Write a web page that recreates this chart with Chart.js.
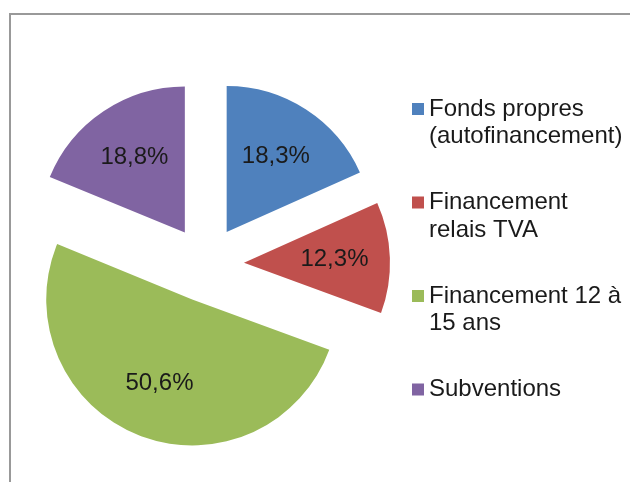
<!DOCTYPE html>
<html>
<head>
<meta charset="utf-8">
<script src="https://cdn.jsdelivr.net/npm/chart.js@4/dist/chart.umd.min.js"></script>
<style>
  html, body { margin: 0; padding: 0; background: #fff; }
  #wrap { position: relative; width: 630px; height: 482px; overflow: hidden; }
  #frame { position: absolute; left: 9px; top: 13px; width: 700px; height: 600px;
           border-left: 2px solid #999; border-top: 2px solid #999; }
  canvas { position: absolute; left: 0; top: 0; }
</style>
</head>
<body>
<div id="wrap">
  <div id="frame"></div>
  <canvas id="myChart" width="630" height="482"></canvas>
</div>
<script>
// chart data
var labels = [
  ['Fonds propres', '(autofinancement)'],
  ['Financement', 'relais TVA'],
  ['Financement 12 à', '15 ans'],
  ['Subventions']
];
var values = [18.3, 12.3, 50.6, 18.8];
var valueLabels = ['18,3%', '12,3%', '50,6%', '18,8%'];
var colors = ['#4F81BD', '#C0504D', '#9BBB59', '#8064A2'];

var FONT = '24px "Liberation Sans", Arial, sans-serif';
var EXPLODE = 38; // distance every slice is pulled out of the centre

// pie where every slice is moved outward (Chart.js offset also grows big slices)
class ExplodedPie extends Chart.PieController {
  draw() {
    var ctx = this.chart.ctx;
    var area = this.chart.chartArea;
    this._cachedMeta.data.forEach(function(arc) {
      var mid = (arc.startAngle + arc.endAngle) / 2;
      ctx.save();
      ctx.translate(Math.cos(mid) * EXPLODE, Math.sin(mid) * EXPLODE);
      arc.draw(ctx, area);
      ctx.restore();
    });
  }
}
ExplodedPie.id = 'explodedPie';
Chart.register(ExplodedPie);

// percentages inside the slices
var sliceLabels = {
  id: 'sliceLabels',
  afterDatasetsDraw: function(chart) {
    var ctx = chart.ctx;
    var meta = chart.getDatasetMeta(0);
    ctx.save();
    ctx.font = FONT;
    ctx.fillStyle = '#1a1a1a';
    ctx.textAlign = 'center';
    ctx.textBaseline = 'middle';
    meta.data.forEach(function(arc, i) {
      var p = arc.getProps(['x', 'y', 'startAngle', 'endAngle', 'outerRadius'], true);
      var mid = (p.startAngle + p.endAngle) / 2;
      var d = EXPLODE + p.outerRadius * 0.62;
      ctx.fillText(valueLabels[i], p.x + Math.cos(mid) * d, p.y + Math.sin(mid) * d);
    });
    ctx.restore();
  }
};

// legend on the right, multi-line entries
var sideLegend = {
  id: 'sideLegend',
  afterDraw: function(chart) {
    var ctx = chart.ctx;
    var x = 412, y = 109, lineH = 27.5, step = 93.5;
    ctx.save();
    ctx.font = FONT;
    ctx.textBaseline = 'middle';
    labels.forEach(function(lines, i) {
      var yy = y + i * step;
      ctx.fillStyle = colors[i];
      ctx.fillRect(x, yy - 6, 12, 12);
      ctx.fillStyle = '#1a1a1a';
      lines.forEach(function(t, j) {
        ctx.fillText(t, x + 17, yy + j * lineH);
      });
    });
    ctx.restore();
  }
};

var ctx = document.getElementById('myChart').getContext('2d');
var myChart = new Chart(ctx, {
  type: 'explodedPie',
  data: {
    labels: labels,
    datasets: [{
      data: values,
      backgroundColor: colors,
      borderWidth: 0,
      radius: 146
    }]
  },
  options: {
    responsive: false,
    animation: false,
    layout: { padding: { left: 0, right: 218, top: 46, bottom: 0 } },
    plugins: {
      legend: { display: false },
      tooltip: { enabled: false }
    }
  },
  plugins: [sliceLabels, sideLegend]
});
</script>
</body>
</html>
